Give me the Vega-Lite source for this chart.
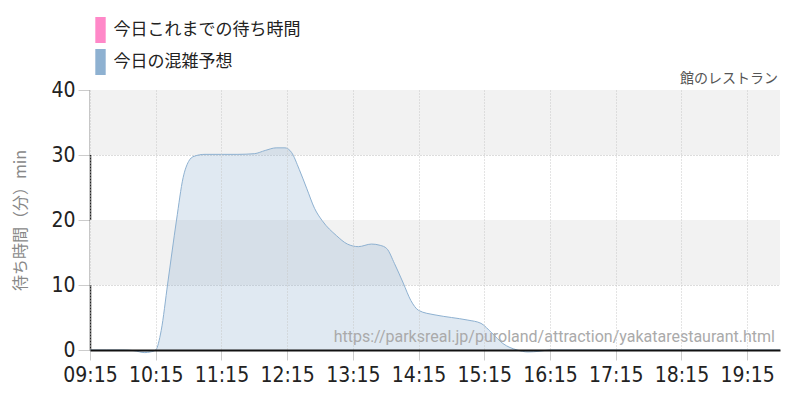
{
  "$schema": "https://vega.github.io/schema/vega-lite/v6.json",
  "width": 690,
  "height": 260,
  "autosize": {"type": "none"},
  "padding": {"left": 90, "top": 90, "right": 20, "bottom": 50},
  "background": "white",
  "config": {
    "view": {"stroke": null},
    "axisY": {
      "domainColor": "#222222", "domainWidth": 1.5,
      "tickColor": "#cccccc", "tickSize": 12,
      "labelFont": "DejaVu Sans Condensed, Roboto", "labelFontSize": 21, "labelColor": "#222222", "labelPadding": 3,
      "gridColor": "#bbbbbb", "gridDash": [1, 2],
      "titleFont": "Noto Sans CJK JP", "titleFontSize": 16, "titleFontWeight": "normal", "titleColor": "#888888", "titlePadding": 22,
      "zindex": 2
    }
  },
  "layer": [
    {
      "data": {"values": [{"lo": 10, "hi": 20}, {"lo": 30, "hi": 40}]},
      "mark": {"type": "rect", "color": "#f2f2f2"},
      "encoding": {
        "y": {"field": "lo", "type": "quantitative", "scale": {"domain": [0, 40], "nice": false}, "title": "待ち時間（分）min"},
        "y2": {"field": "hi"}
      }
    },
    {
      "data": {"values": [
        {"t": "2024-01-01T09:15", "v": 0, "s": "今日の混雑予想"},
        {"t": "2024-01-01T09:30", "v": 0, "s": "今日の混雑予想"},
        {"t": "2024-01-01T09:45", "v": 0, "s": "今日の混雑予想"},
        {"t": "2024-01-01T09:55", "v": -0.1, "s": "今日の混雑予想"},
        {"t": "2024-01-01T10:05", "v": -0.4, "s": "今日の混雑予想"},
        {"t": "2024-01-01T10:10", "v": -0.3, "s": "今日の混雑予想"},
        {"t": "2024-01-01T10:15", "v": 0, "s": "今日の混雑予想"},
        {"t": "2024-01-01T10:20", "v": 3, "s": "今日の混雑予想"},
        {"t": "2024-01-01T10:26", "v": 10.3, "s": "今日の混雑予想"},
        {"t": "2024-01-01T10:34", "v": 20, "s": "今日の混雑予想"},
        {"t": "2024-01-01T10:40", "v": 26.5, "s": "今日の混雑予想"},
        {"t": "2024-01-01T10:45", "v": 29, "s": "今日の混雑予想"},
        {"t": "2024-01-01T10:50", "v": 29.8, "s": "今日の混雑予想"},
        {"t": "2024-01-01T11:00", "v": 30.1, "s": "今日の混雑予想"},
        {"t": "2024-01-01T11:15", "v": 30.1, "s": "今日の混雑予想"},
        {"t": "2024-01-01T11:30", "v": 30.1, "s": "今日の混雑予想"},
        {"t": "2024-01-01T11:45", "v": 30.2, "s": "今日の混雑予想"},
        {"t": "2024-01-01T11:55", "v": 30.7, "s": "今日の混雑予想"},
        {"t": "2024-01-01T12:05", "v": 31.1, "s": "今日の混雑予想"},
        {"t": "2024-01-01T12:13", "v": 31.1, "s": "今日の混雑予想"},
        {"t": "2024-01-01T12:19", "v": 30.4, "s": "今日の混雑予想"},
        {"t": "2024-01-01T12:26", "v": 27.8, "s": "今日の混雑予想"},
        {"t": "2024-01-01T12:33", "v": 24.8, "s": "今日の混雑予想"},
        {"t": "2024-01-01T12:40", "v": 21.8, "s": "今日の混雑予想"},
        {"t": "2024-01-01T12:47", "v": 19.9, "s": "今日の混雑予想"},
        {"t": "2024-01-01T13:00", "v": 17.6, "s": "今日の混雑予想"},
        {"t": "2024-01-01T13:10", "v": 16.3, "s": "今日の混雑予想"},
        {"t": "2024-01-01T13:20", "v": 15.9, "s": "今日の混雑予想"},
        {"t": "2024-01-01T13:32", "v": 16.3, "s": "今日の混雑予想"},
        {"t": "2024-01-01T13:40", "v": 16.1, "s": "今日の混雑予想"},
        {"t": "2024-01-01T13:46", "v": 15.6, "s": "今日の混雑予想"},
        {"t": "2024-01-01T13:53", "v": 13.3, "s": "今日の混雑予想"},
        {"t": "2024-01-01T14:01", "v": 10.3, "s": "今日の混雑予想"},
        {"t": "2024-01-01T14:08", "v": 7.6, "s": "今日の混雑予想"},
        {"t": "2024-01-01T14:15", "v": 6.1, "s": "今日の混雑予想"},
        {"t": "2024-01-01T14:30", "v": 5.4, "s": "今日の混雑予想"},
        {"t": "2024-01-01T14:45", "v": 5.0, "s": "今日の混雑予想"},
        {"t": "2024-01-01T15:00", "v": 4.6, "s": "今日の混雑予想"},
        {"t": "2024-01-01T15:12", "v": 4.1, "s": "今日の混雑予想"},
        {"t": "2024-01-01T15:22", "v": 2.6, "s": "今日の混雑予想"},
        {"t": "2024-01-01T15:32", "v": 1.0, "s": "今日の混雑予想"},
        {"t": "2024-01-01T15:45", "v": 0, "s": "今日の混雑予想"},
        {"t": "2024-01-01T15:55", "v": -0.3, "s": "今日の混雑予想"},
        {"t": "2024-01-01T16:05", "v": -0.2, "s": "今日の混雑予想"},
        {"t": "2024-01-01T16:15", "v": 0, "s": "今日の混雑予想"},
        {"t": "2024-01-01T16:45", "v": 0, "s": "今日の混雑予想"},
        {"t": "2024-01-01T17:15", "v": 0, "s": "今日の混雑予想"},
        {"t": "2024-01-01T17:45", "v": 0, "s": "今日の混雑予想"},
        {"t": "2024-01-01T18:15", "v": 0, "s": "今日の混雑予想"},
        {"t": "2024-01-01T18:45", "v": 0, "s": "今日の混雑予想"},
        {"t": "2024-01-01T19:15", "v": 0, "s": "今日の混雑予想"},
        {"t": "2024-01-01T19:45", "v": 0, "s": "今日の混雑予想"}
      ]},
      "mark": {"type": "area", "interpolate": "monotone", "fillOpacity": 0.28, "line": {"strokeWidth": 1}},
      "encoding": {
        "x": {
          "field": "t", "type": "temporal", "title": null,
          "scale": {"domain": [
            {"year": 2024, "month": 1, "date": 1, "hours": 9, "minutes": 15},
            {"year": 2024, "month": 1, "date": 1, "hours": 19, "minutes": 45}
          ]},
          "axis": {
            "values": [
              {"year": 2024, "month": 1, "date": 1, "hours": 9, "minutes": 15},
              {"year": 2024, "month": 1, "date": 1, "hours": 9, "minutes": 45},
              {"year": 2024, "month": 1, "date": 1, "hours": 10, "minutes": 15},
              {"year": 2024, "month": 1, "date": 1, "hours": 10, "minutes": 45},
              {"year": 2024, "month": 1, "date": 1, "hours": 11, "minutes": 15},
              {"year": 2024, "month": 1, "date": 1, "hours": 11, "minutes": 45},
              {"year": 2024, "month": 1, "date": 1, "hours": 12, "minutes": 15},
              {"year": 2024, "month": 1, "date": 1, "hours": 12, "minutes": 45},
              {"year": 2024, "month": 1, "date": 1, "hours": 13, "minutes": 15},
              {"year": 2024, "month": 1, "date": 1, "hours": 13, "minutes": 45},
              {"year": 2024, "month": 1, "date": 1, "hours": 14, "minutes": 15},
              {"year": 2024, "month": 1, "date": 1, "hours": 14, "minutes": 45},
              {"year": 2024, "month": 1, "date": 1, "hours": 15, "minutes": 15},
              {"year": 2024, "month": 1, "date": 1, "hours": 15, "minutes": 45},
              {"year": 2024, "month": 1, "date": 1, "hours": 16, "minutes": 15},
              {"year": 2024, "month": 1, "date": 1, "hours": 16, "minutes": 45},
              {"year": 2024, "month": 1, "date": 1, "hours": 17, "minutes": 15},
              {"year": 2024, "month": 1, "date": 1, "hours": 17, "minutes": 45},
              {"year": 2024, "month": 1, "date": 1, "hours": 18, "minutes": 15},
              {"year": 2024, "month": 1, "date": 1, "hours": 18, "minutes": 45},
              {"year": 2024, "month": 1, "date": 1, "hours": 19, "minutes": 15},
              {"year": 2024, "month": 1, "date": 1, "hours": 19, "minutes": 45}
            ],
            "labelExpr": "minutes(datum.value) == 15 ? timeFormat(datum.value, '%H:%M') : ''",
            "labelFont": "DejaVu Sans Condensed, Roboto", "labelFontSize": 21, "labelColor": "#222222", "labelPadding": 4,
            "labelOverlap": false, "labelFlush": false,
            "domainColor": "#111111", "domainWidth": 2,
            "tickColor": "#cccccc", "tickSize": 10,
            "tickOpacity": {"condition": {"test": "minutes(datum.value) == 15", "value": 1}, "value": 0},
            "gridColor": "#c8c8c8",
            "gridDash": {"condition": {"test": "minutes(datum.value) == 15", "value": [1, 2]}, "value": [4, 4]},
            "zindex": 1
          }
        },
        "y": {"field": "v", "type": "quantitative", "title": "待ち時間（分）min", "axis": {"values": [0, 10, 20, 30, 40]}},
        "color": {
          "field": "s", "type": "nominal",
          "scale": {"domain": ["今日これまでの待ち時間", "今日の混雑予想"], "range": ["#ff88c8", "#8eb1d1"]},
          "legend": {
            "orient": "none", "legendX": -2.5, "legendY": -73, "title": null, "direction": "vertical",
            "symbolType": "M-0.4,-1H0.4V1H-0.4Z", "symbolSize": 676, "symbolOpacity": 1, "symbolStrokeWidth": 0,
            "labelFont": "Noto Sans CJK JP", "labelFontSize": 17, "labelColor": "#222222", "labelOffset": 0, "labelLimit": 400,
            "rowPadding": 6, "padding": 0
          }
        }
      }
    },
    {
      "data": {"values": [{"src": "https://parksreal.jp/puroland/attraction/yakatarestaurant.html", "name": "館のレストラン"}]},
      "layer": [
        {
          "mark": {"type": "text", "align": "right", "baseline": "alphabetic", "font": "Roboto", "fontSize": 16, "color": "#aaaaaa", "dx": -5, "dy": -8},
          "encoding": {
            "x": {"datum": {"year": 2024, "month": 1, "date": 1, "hours": 19, "minutes": 45}, "type": "temporal"},
            "y": {"datum": 0, "type": "quantitative"},
            "text": {"field": "src"}
          }
        },
        {
          "mark": {"type": "text", "align": "right", "baseline": "alphabetic", "font": "Noto Sans CJK JP", "fontSize": 14, "color": "#555555", "dx": -2, "dy": -7},
          "encoding": {
            "x": {"datum": {"year": 2024, "month": 1, "date": 1, "hours": 19, "minutes": 45}, "type": "temporal"},
            "y": {"datum": 40, "type": "quantitative"},
            "text": {"field": "name"}
          }
        }
      ]
    }
  ]
}
